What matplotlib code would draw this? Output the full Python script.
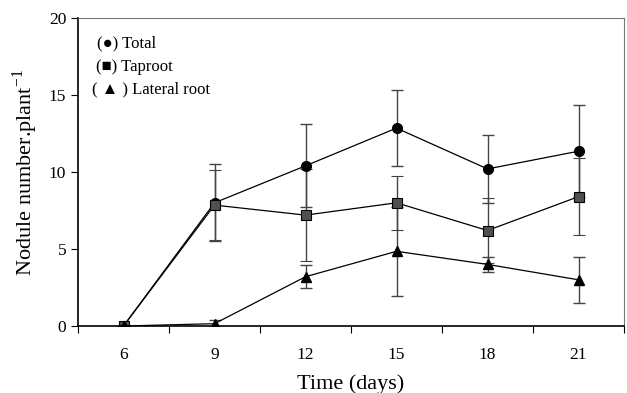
import numpy as np
import matplotlib.pyplot as plt

days = ['6', '9', '12', '15', '18', '21']
total = [0, 8.0, 10.4, 12.85, 10.2, 11.35]
total_err = [0, 2.5, 2.7, 2.45, 2.2, 3.0]
taproot = [0, 7.85, 7.2, 8.0, 6.2, 8.4]
taproot_err = [0, 2.25, 3.0, 1.75, 2.1, 2.5]
lateral = [0, 0.15, 3.2, 4.85, 4.0, 3.0]
lateral_err = [0, 0.25, 0.75, 2.9, 0.5, 1.5]

plt.rcParams['font.family'] = ['Liberation Serif', 'DejaVu Serif']

fig = plt.figure(figsize=(6.27, 3.93), dpi=100)
ax = fig.add_axes([78/627, 1-326/393, 546/627, 308/393])

x = np.arange(len(days)) + 0.5
ebkw = dict(ecolor='#444444', elinewidth=1.0, capsize=4, capthick=1.0)
ax.errorbar(x, total, yerr=total_err, color='black', lw=0.9, marker='o',
            ms=7, mfc='black', mec='black', **ebkw)
ax.errorbar(x, taproot, yerr=taproot_err, color='black', lw=0.9, marker='s',
            ms=7, mfc='#505050', mec='black', mew=0.8, **ebkw)
ax.errorbar(x, lateral, yerr=lateral_err, color='black', lw=0.9, marker='^',
            ms=7.5, mfc='black', mec='black', **ebkw)

ax.set_xlim(0, 6)
ax.set_ylim(0, 20)
ax.set_xticks(np.arange(7))
ax.set_xticklabels([])
ax.set_xticks(x, minor=True)
ax.set_xticklabels(days, minor=True, fontsize=12.5)
ax.tick_params(axis='x', which='minor', length=0, pad=15)
ax.tick_params(axis='x', which='major', length=5, direction='out')
ax.set_yticks([0, 5, 10, 15, 20])
ax.tick_params(axis='y', labelsize=12.5, length=5, direction='out')

for s in ['top', 'right']:
    ax.spines[s].set_color('#777777')
for s in ['left', 'bottom']:
    ax.spines[s].set_linewidth(1.2)

ax.set_xlabel('Time (days)', fontsize=16, labelpad=8)
ax.set_ylabel('Nodule number.plant$^{\\mathregular{-1}}$', fontsize=16, labelpad=6)

ax.text(0.035, 0.919, '(\u25cf) Total', transform=ax.transAxes, fontsize=12, va='center')
ax.text(0.033, 0.841, '(\u25a0) Taproot', transform=ax.transAxes, fontsize=12, va='center')
ax.text(0.026, 0.769, '( \u25b2 ) Lateral root', transform=ax.transAxes, fontsize=12, va='center')

fig.savefig('out.png', dpi=100)
